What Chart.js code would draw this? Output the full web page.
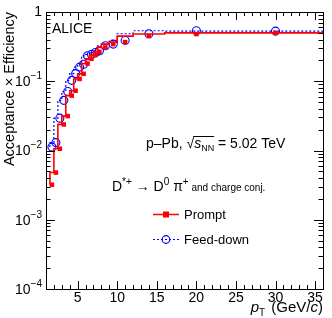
<!DOCTYPE html>
<html><head><meta charset="utf-8">
<script src="https://cdn.jsdelivr.net/npm/chart.js@4.4.1/dist/chart.umd.min.js"></script>
<style>html,body{margin:0;padding:0;background:#fff}#wrap{width:332px;height:318px}</style>
</head><body><div id="wrap"><canvas id="c" width="332" height="318"></canvas></div>
<script>
// pT bin edges (GeV/c)
const binEdges = [1.5,2,2.5,3,3.5,4,4.5,5,5.5,6,6.5,7,7.5,8,9,10,12,16,24,36];
// Acceptance x efficiency, prompt D*+
const prompt = [0.0032,0.0048,0.0106,0.0238,0.0314,0.062,0.073,0.108,0.128,0.18,0.211,0.238,0.266,0.308,0.344,0.367,0.449,0.48,0.50];
// Acceptance x efficiency, feed-down D*+
const feeddown = [0.0112,0.013,0.0293,0.053,0.071,0.103,0.129,0.16,0.176,0.233,0.244,0.26,0.275,0.325,0.344,0.389,0.485,0.536,0.53];
const xTickLabels = [5,10,15,20,25,30,35];
const yDecades = [-4,-3,-2,-1,0];

const centers = binEdges.slice(0,-1).map((e,i)=>(e+binEdges[i+1])/2);
const stepPts = v => binEdges.map((e,i)=>({x:e, y:v[Math.min(i,v.length-1)]}));
const markPts = v => centers.map((c,i)=>({x:c, y:v[i]}));

const FONT = '"Liberation Sans", Arial, Helvetica, sans-serif';
const RED = '#ff0000', BLUE = '#0000ff';

function rich(ctx, x, y, segs){
  for (const s of segs){
    ctx.font = s.f;
    ctx.fillText(s.t, x, y + (s.dy||0));
    const w = ctx.measureText(s.t).width;
    if (s.cb) s.cb(x, w);
    x += w + (s.sp||0);
  }
  return x;
}

const deco = {
  id:'deco',
  afterDraw(chart){
    const ctx = chart.ctx, a = chart.chartArea, xs = chart.scales.x, ys = chart.scales.y;
    ctx.save();
    ctx.strokeStyle = '#000'; ctx.lineWidth = 1;
    ctx.strokeRect(Math.round(a.left)+0.5, Math.round(a.top)+0.5, Math.round(a.right-a.left), Math.round(a.bottom-a.top));
    ctx.beginPath();
    for (let v=2; v<=36; v++){
      const px = Math.round(xs.getPixelForValue(v))+0.5;
      const L = v%5===0 ? 8 : 4;
      ctx.moveTo(px, a.bottom); ctx.lineTo(px, a.bottom-L);
      ctx.moveTo(px, a.top); ctx.lineTo(px, a.top+L);
    }
    for (const e of yDecades){
      for (let m=1; m<=9; m++){
        const v = m*Math.pow(10,e);
        if (v>1.0001) break;
        const py = Math.round(ys.getPixelForValue(v))+0.5;
        const L = m===1 ? 9 : 4.5;
        ctx.moveTo(a.left, py); ctx.lineTo(a.left+L, py);
        ctx.moveTo(a.right, py); ctx.lineTo(a.right-L, py);
      }
    }
    ctx.stroke();
    ctx.fillStyle = '#000';
    // y tick labels
    ctx.textBaseline = 'middle';
    for (const e of yDecades){
      const py = ys.getPixelForValue(Math.pow(10,e));
      if (e===0){
        ctx.font = '14px '+FONT; ctx.textAlign='right';
        ctx.fillText('1', a.left-4, py);
      } else {
        ctx.textAlign='left';
        ctx.font = '10px '+FONT;
        const sup = '\u2212'+(-e);
        const ws = ctx.measureText(sup).width;
        ctx.font = '14px '+FONT;
        const wb = ctx.measureText('10').width;
        const x0 = a.left-4-ws-wb;
        ctx.fillText('10', x0, py+1);
        ctx.font = '10px '+FONT;
        ctx.fillText(sup, x0+wb, py-5);
      }
    }
    // x tick labels
    ctx.textAlign='center'; ctx.textBaseline='alphabetic';
    ctx.font = '14px '+FONT;
    for (const v of xTickLabels){
      ctx.fillText(String(v), xs.getPixelForValue(v), a.bottom+13);
    }
    // x title
    ctx.textAlign='left';
    const xt = [
      {t:'p', f:'italic 15px '+FONT},
      {t:'T', f:'10px '+FONT, dy:4, sp:2},
      {t:' (GeV/', f:'15px '+FONT},
      {t:'c', f:'italic 15px '+FONT},
      {t:')', f:'15px '+FONT}];
    let w=0; for (const s of xt){ctx.font=s.f; w+=ctx.measureText(s.t).width+(s.sp||0);}
    rich(ctx, a.right-w, 312, xt);
    // y title
    ctx.save();
    ctx.translate(14, a.top);
    ctx.rotate(-Math.PI/2);
    ctx.textAlign='right';
    ctx.font = '14.5px '+FONT;
    ctx.fillText('Acceptance \u00d7 Efficiency', 0, 0);
    ctx.restore();
    ctx.textAlign='left';
    // ALICE
    ctx.font = '14px '+FONT;
    ctx.fillText('ALICE', 52, 33);
    // system text
    let sx=0, sw=0;
    rich(ctx, 146, 148, [
      {t:'p\u2013Pb, ', f:'14px '+FONT},
      {t:'\u221a', f:'14px '+FONT, cb:(x,ww)=>{sx=x+ww-1;}},
      {t:'s', f:'italic 14px '+FONT},
      {t:'NN', f:'9px '+FONT, dy:3, cb:(x,ww)=>{sw=x+ww-sx;}},
      {t:' = 5.02 TeV', f:'14px '+FONT}]);
    ctx.beginPath(); ctx.moveTo(sx, 136.5); ctx.lineTo(sx+sw, 136.5); ctx.stroke();
    // decay text
    rich(ctx, 112, 191, [
      {t:'D', f:'14px '+FONT},
      {t:'*+', f:'10px '+FONT, dy:-6},
      {t:' \u2192 D', f:'14px '+FONT},
      {t:'0', f:'10px '+FONT, dy:-6},
      {t:' \u03c0', f:'14px '+FONT},
      {t:'+', f:'10px '+FONT, dy:-6},
      {t:' and charge conj.', f:'10px '+FONT}]);
    // legend
    ctx.lineWidth = 1.5; ctx.strokeStyle = RED;
    ctx.beginPath(); ctx.moveTo(153,214.5); ctx.lineTo(179,214.5); ctx.stroke();
    ctx.fillStyle = RED; ctx.fillRect(163,211.5,6,6);
    ctx.strokeStyle = BLUE; ctx.lineWidth = 1.2; ctx.setLineDash([2,2]);
    ctx.beginPath(); ctx.moveTo(153,239.5); ctx.lineTo(179,239.5); ctx.stroke();
    ctx.setLineDash([]);
    ctx.beginPath(); ctx.arc(166,239.5,3.8,0,Math.PI*2); ctx.stroke();
    ctx.fillStyle = '#000'; ctx.font = '13px '+FONT;
    ctx.fillText('Prompt', 184, 219);
    ctx.fillText('Feed-down', 184, 244);
    ctx.restore();
  }
};

new Chart(document.getElementById('c'), {
  type:'line',
  data:{datasets:[
    {label:'Prompt', data: markPts(prompt), showLine:false, pointStyle:'rect', pointRadius:3.2, backgroundColor:RED, borderColor:RED, borderWidth:0},
    {label:'Prompt hist', data: stepPts(prompt), stepped:'after', borderColor:RED, borderWidth:1.6, pointRadius:0, fill:false},
    {label:'Feed-down', data: markPts(feeddown), showLine:false, pointStyle:'circle', pointRadius:4, backgroundColor:'rgba(0,0,0,0)', borderColor:BLUE, borderWidth:1.1},
    {label:'Feed-down hist', data: stepPts(feeddown), stepped:'after', borderColor:BLUE, borderWidth:1.2, borderDash:[2,2], pointRadius:0, fill:false}
  ]},
  options:{
    responsive:false, animation:false, devicePixelRatio:1,
    layout:{padding:{left:0, right:9, top:12, bottom:0}},
    plugins:{legend:{display:false}, tooltip:{enabled:false}},
    scales:{
      x:{type:'linear', min:1, max:36, grid:{display:false}, border:{display:false},
         ticks:{display:false}, afterFit(s){s.height=29;}},
      y:{type:'logarithmic', min:1e-4, max:1, grid:{display:false}, border:{display:false},
         ticks:{display:false}, afterFit(s){s.width=46;}}
    }
  },
  plugins:[deco]
});
</script></body></html>
